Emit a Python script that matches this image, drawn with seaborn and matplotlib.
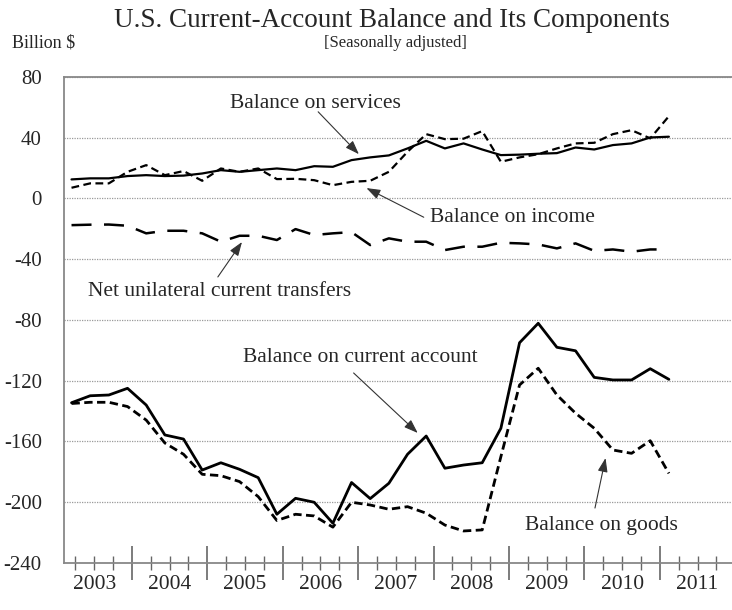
import numpy as np
import pandas as pd
import seaborn as sns
import matplotlib.pyplot as plt
from matplotlib.ticker import FixedLocator, NullFormatter

# Quarterly values, 2003:I - 2011:I (billion $)
quarters = [f"{y}Q{q}" for y in range(2003, 2012) for q in range(1, 5)][:33]

current_account = [-134.5, -129.9, -129.4, -125.0, -136.0, -155.7, -158.4, -178.8,
                   -174.0, -178.3, -183.8, -207.9, -197.4, -200.0, -213.8, -187.0,
                   -197.6, -187.5, -168.4, -156.4, -177.6, -175.5, -174.0, -151.3,
                   -95.0, -82.2, -98.0, -100.3, -117.8, -119.5, -119.5, -112.1, -119.1]
goods = [-135.0, -134.2, -134.2, -137.0, -145.9, -161.0, -168.4, -181.6,
         -182.5, -186.4, -196.3, -212.0, -207.9, -209.0, -216.4, -200.0,
         -201.8, -204.6, -202.9, -207.2, -215.0, -218.9, -218.2, -170.0,
         -122.8, -111.8, -129.4, -141.4, -151.3, -165.6, -167.8, -159.5, -181.0]
services = [12.5, 13.2, 13.2, 14.7, 15.3, 14.7, 15.0, 16.4,
            18.6, 17.5, 18.6, 19.7, 18.6, 21.2, 20.8, 25.2,
            27.0, 28.3, 32.9, 37.9, 32.9, 36.2, 32.2, 28.5,
            28.8, 29.4, 29.8, 33.5, 32.2, 35.1, 36.2, 40.1, 40.6]
income = [7.0, 9.9, 9.9, 17.5, 21.9, 15.3, 18.0, 11.6,
          19.7, 17.5, 19.7, 12.7, 12.9, 12.0, 8.7, 10.9,
          11.6, 17.5, 30.7, 42.3, 39.0, 39.3, 44.3, 24.1,
          27.0, 29.1, 32.9, 36.2, 36.6, 42.3, 44.9, 39.5, 54.1]
transfers = [-17.6, -17.3, -17.2, -18.0, -23.0, -21.3, -21.3, -23.0,
             -28.5, -24.6, -24.6, -27.4, -20.2, -24.1, -23.0, -22.2,
             -30.7, -26.3, -28.5, -28.5, -34.0, -31.8, -31.8, -29.2,
             -29.6, -30.3, -32.9, -29.6, -34.5, -33.6, -35.1, -33.6, -33.6]

years = list(range(2003, 2012))
y_ticks = [80, 40, 0, -40, -80, -120, -160, -200, -240]

df = pd.DataFrame({
    'quarter': quarters,
    'current': current_account,
    'goods': goods,
    'services': services,
    'income': income,
    'transfers': transfers,
})
# position of each quarter on a year scale
df['x'] = 2003.2 + 0.2475 * np.arange(len(df))

sns.set_theme(style="white")
plt.rcParams['font.family'] = ['Liberation Serif', 'DejaVu Serif']

fig = plt.figure(figsize=(7.32, 6.10), dpi=100)
ax = fig.add_axes([0.0874, 0.077, 0.915, 0.797])

ax.set_axisbelow(True)
ax.grid(axis='y', color='#9a9a9a', linestyle=(0, (1, 1)), linewidth=0.9)
ax.grid(axis='x', visible=False)

sns.lineplot(data=df, x='x', y='services', ax=ax, color='black', lw=1.6)
sns.lineplot(data=df, x='x', y='income', ax=ax, color='black', lw=1.6,
             linestyle=(0, (3.5, 2)))
sns.lineplot(data=df, x='x', y='transfers', ax=ax, color='black', lw=1.8,
             linestyle=(0, (8, 5)))
sns.lineplot(data=df, x='x', y='current', ax=ax, color='black', lw=2.0)
sns.lineplot(data=df, x='x', y='goods', ax=ax, color='black', lw=2.0,
             linestyle=(0, (3, 1.6)))

ax.set_xlim(2003.1, 2011.98)
ax.set_ylim(-240, 80)
ax.set_xlabel('')
ax.set_ylabel('')

ax.set_yticks(y_ticks)
ax.set_yticklabels([str(v) for v in y_ticks], fontsize=15)
ax.tick_params(axis='y', length=0, pad=16)

# year boundaries as major ticks, quarters as minor ticks
ax.xaxis.set_major_locator(FixedLocator(years[1:]))
ax.xaxis.set_major_formatter(NullFormatter())
qticks = [y + q / 4 for y in years for q in range(1, 4)]
ax.xaxis.set_minor_locator(FixedLocator(qticks))
ax.tick_params(axis='x', which='major', direction='inout', length=24,
               width=1.2, color='#666666', bottom=True)
ax.tick_params(axis='x', which='minor', direction='inout', length=10,
               width=1.0, color='#666666', bottom=True)
for y in years:
    ax.text(y + 0.5, -0.045, str(y), transform=ax.get_xaxis_transform(),
            ha='center', va='center', fontsize=15.5)

for side in ['left', 'top', 'bottom']:
    ax.spines[side].set_color('#888888')
    ax.spines[side].set_linewidth(1.3)
ax.spines['right'].set_visible(False)

arrow = dict(arrowstyle='-|>,head_length=0.7,head_width=0.25',
             color='#333333', lw=0.8, shrinkA=0, shrinkB=0)
lbl = dict(fontsize=15.5, ha='center', va='center')
ax.text(2006.44, 62.7, 'Balance on services', **lbl)
ax.annotate('', xy=(2007.01, 29.1), xytext=(2006.47, 57), arrowprops=arrow)
ax.text(2009.05, -12.4, 'Balance on income', **lbl)
ax.annotate('', xy=(2007.11, 6.8), xytext=(2007.87, -12.4), arrowprops=arrow)
ax.text(2005.16, -61.6, 'Net unilateral current transfers', **lbl)
ax.annotate('', xy=(2005.46, -28.7), xytext=(2005.14, -51.7), arrowprops=arrow)
ax.text(2007.03, -105, 'Balance on current account', **lbl)
ax.annotate('', xy=(2007.79, -154.4), xytext=(2006.94, -114.9), arrowprops=arrow)
ax.text(2010.22, -215.6, 'Balance on goods', **lbl)
ax.annotate('', xy=(2010.28, -170.9), xytext=(2010.14, -203.8), arrowprops=arrow)

fig.text(0.535, 0.967, 'U.S. Current-Account Balance and Its Components',
         ha='center', va='center', fontsize=19.5)
fig.text(0.54, 0.93, '[Seasonally adjusted]', ha='center', va='center',
         fontsize=12)
fig.text(0.016, 0.93, 'Billion $', ha='left', va='center', fontsize=13)

fig.savefig('out.png', dpi=100)
